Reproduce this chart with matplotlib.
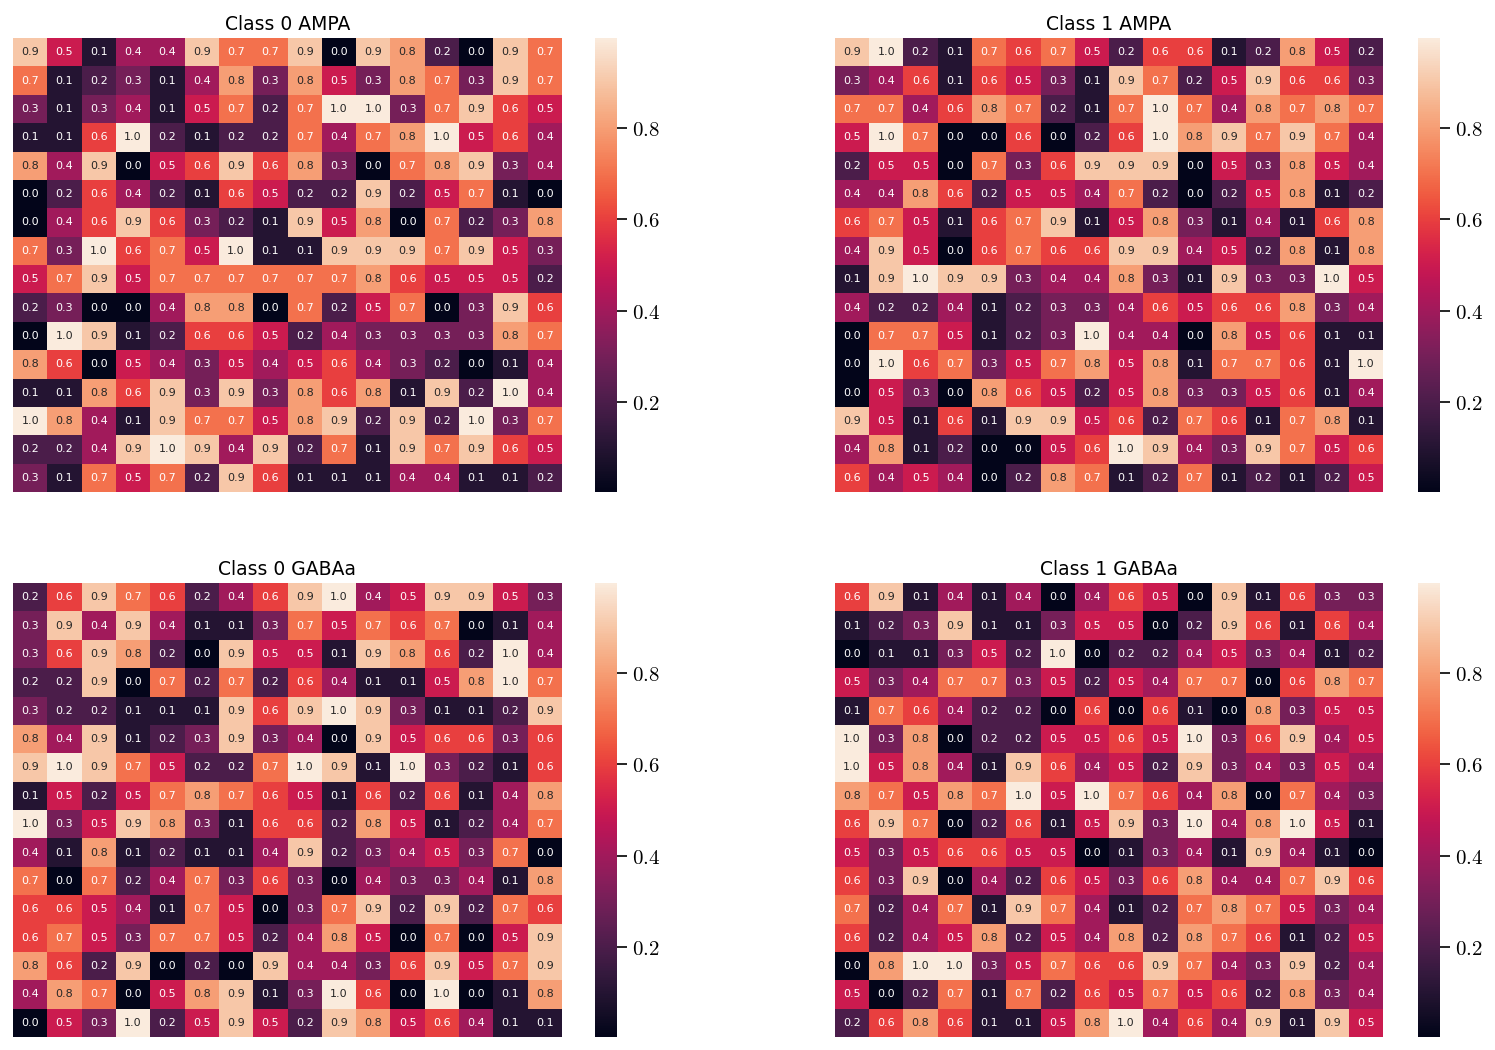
import numpy as np
import matplotlib
matplotlib.use("Agg")
import matplotlib.pyplot as plt
import matplotlib.ticker as mticker
import seaborn as sns

plt.rcParams['mathtext.fontset'] = 'cm'

# annotated (rounded) values, 16x16 each
class0_ampa = [
    [0.9, 0.5, 0.1, 0.4, 0.4, 0.9, 0.7, 0.7, 0.9, 0.0, 0.9, 0.8, 0.2, 0.0, 0.9, 0.7],
    [0.7, 0.1, 0.2, 0.3, 0.1, 0.4, 0.8, 0.3, 0.8, 0.5, 0.3, 0.8, 0.7, 0.3, 0.9, 0.7],
    [0.3, 0.1, 0.3, 0.4, 0.1, 0.5, 0.7, 0.2, 0.7, 1.0, 1.0, 0.3, 0.7, 0.9, 0.6, 0.5],
    [0.1, 0.1, 0.6, 1.0, 0.2, 0.1, 0.2, 0.2, 0.7, 0.4, 0.7, 0.8, 1.0, 0.5, 0.6, 0.4],
    [0.8, 0.4, 0.9, 0.0, 0.5, 0.6, 0.9, 0.6, 0.8, 0.3, 0.0, 0.7, 0.8, 0.9, 0.3, 0.4],
    [0.0, 0.2, 0.6, 0.4, 0.2, 0.1, 0.6, 0.5, 0.2, 0.2, 0.9, 0.2, 0.5, 0.7, 0.1, 0.0],
    [0.0, 0.4, 0.6, 0.9, 0.6, 0.3, 0.2, 0.1, 0.9, 0.5, 0.8, 0.0, 0.7, 0.2, 0.3, 0.8],
    [0.7, 0.3, 1.0, 0.6, 0.7, 0.5, 1.0, 0.1, 0.1, 0.9, 0.9, 0.9, 0.7, 0.9, 0.5, 0.3],
    [0.5, 0.7, 0.9, 0.5, 0.7, 0.7, 0.7, 0.7, 0.7, 0.7, 0.8, 0.6, 0.5, 0.5, 0.5, 0.2],
    [0.2, 0.3, 0.0, 0.0, 0.4, 0.8, 0.8, 0.0, 0.7, 0.2, 0.5, 0.7, 0.0, 0.3, 0.9, 0.6],
    [0.0, 1.0, 0.9, 0.1, 0.2, 0.6, 0.6, 0.5, 0.2, 0.4, 0.3, 0.3, 0.3, 0.3, 0.8, 0.7],
    [0.8, 0.6, 0.0, 0.5, 0.4, 0.3, 0.5, 0.4, 0.5, 0.6, 0.4, 0.3, 0.2, 0.0, 0.1, 0.4],
    [0.1, 0.1, 0.8, 0.6, 0.9, 0.3, 0.9, 0.3, 0.8, 0.6, 0.8, 0.1, 0.9, 0.2, 1.0, 0.4],
    [1.0, 0.8, 0.4, 0.1, 0.9, 0.7, 0.7, 0.5, 0.8, 0.9, 0.2, 0.9, 0.2, 1.0, 0.3, 0.7],
    [0.2, 0.2, 0.4, 0.9, 1.0, 0.9, 0.4, 0.9, 0.2, 0.7, 0.1, 0.9, 0.7, 0.9, 0.6, 0.5],
    [0.3, 0.1, 0.7, 0.5, 0.7, 0.2, 0.9, 0.6, 0.1, 0.1, 0.1, 0.4, 0.4, 0.1, 0.1, 0.2],
]

class1_ampa = [
    [0.9, 1.0, 0.2, 0.1, 0.7, 0.6, 0.7, 0.5, 0.2, 0.6, 0.6, 0.1, 0.2, 0.8, 0.5, 0.2],
    [0.3, 0.4, 0.6, 0.1, 0.6, 0.5, 0.3, 0.1, 0.9, 0.7, 0.2, 0.5, 0.9, 0.6, 0.6, 0.3],
    [0.7, 0.7, 0.4, 0.6, 0.8, 0.7, 0.2, 0.1, 0.7, 1.0, 0.7, 0.4, 0.8, 0.7, 0.8, 0.7],
    [0.5, 1.0, 0.7, 0.0, 0.0, 0.6, 0.0, 0.2, 0.6, 1.0, 0.8, 0.9, 0.7, 0.9, 0.7, 0.4],
    [0.2, 0.5, 0.5, 0.0, 0.7, 0.3, 0.6, 0.9, 0.9, 0.9, 0.0, 0.5, 0.3, 0.8, 0.5, 0.4],
    [0.4, 0.4, 0.8, 0.6, 0.2, 0.5, 0.5, 0.4, 0.7, 0.2, 0.0, 0.2, 0.5, 0.8, 0.1, 0.2],
    [0.6, 0.7, 0.5, 0.1, 0.6, 0.7, 0.9, 0.1, 0.5, 0.8, 0.3, 0.1, 0.4, 0.1, 0.6, 0.8],
    [0.4, 0.9, 0.5, 0.0, 0.6, 0.7, 0.6, 0.6, 0.9, 0.9, 0.4, 0.5, 0.2, 0.8, 0.1, 0.8],
    [0.1, 0.9, 1.0, 0.9, 0.9, 0.3, 0.4, 0.4, 0.8, 0.3, 0.1, 0.9, 0.3, 0.3, 1.0, 0.5],
    [0.4, 0.2, 0.2, 0.4, 0.1, 0.2, 0.3, 0.3, 0.4, 0.6, 0.5, 0.6, 0.6, 0.8, 0.3, 0.4],
    [0.0, 0.7, 0.7, 0.5, 0.1, 0.2, 0.3, 1.0, 0.4, 0.4, 0.0, 0.8, 0.5, 0.6, 0.1, 0.1],
    [0.0, 1.0, 0.6, 0.7, 0.3, 0.5, 0.7, 0.8, 0.5, 0.8, 0.1, 0.7, 0.7, 0.6, 0.1, 1.0],
    [0.0, 0.5, 0.3, 0.0, 0.8, 0.6, 0.5, 0.2, 0.5, 0.8, 0.3, 0.3, 0.5, 0.6, 0.1, 0.4],
    [0.9, 0.5, 0.1, 0.6, 0.1, 0.9, 0.9, 0.5, 0.6, 0.2, 0.7, 0.6, 0.1, 0.7, 0.8, 0.1],
    [0.4, 0.8, 0.1, 0.2, 0.0, 0.0, 0.5, 0.6, 1.0, 0.9, 0.4, 0.3, 0.9, 0.7, 0.5, 0.6],
    [0.6, 0.4, 0.5, 0.4, 0.0, 0.2, 0.8, 0.7, 0.1, 0.2, 0.7, 0.1, 0.2, 0.1, 0.2, 0.5],
]

class0_gabaa = [
    [0.2, 0.6, 0.9, 0.7, 0.6, 0.2, 0.4, 0.6, 0.9, 1.0, 0.4, 0.5, 0.9, 0.9, 0.5, 0.3],
    [0.3, 0.9, 0.4, 0.9, 0.4, 0.1, 0.1, 0.3, 0.7, 0.5, 0.7, 0.6, 0.7, 0.0, 0.1, 0.4],
    [0.3, 0.6, 0.9, 0.8, 0.2, 0.0, 0.9, 0.5, 0.5, 0.1, 0.9, 0.8, 0.6, 0.2, 1.0, 0.4],
    [0.2, 0.2, 0.9, 0.0, 0.7, 0.2, 0.7, 0.2, 0.6, 0.4, 0.1, 0.1, 0.5, 0.8, 1.0, 0.7],
    [0.3, 0.2, 0.2, 0.1, 0.1, 0.1, 0.9, 0.6, 0.9, 1.0, 0.9, 0.3, 0.1, 0.1, 0.2, 0.9],
    [0.8, 0.4, 0.9, 0.1, 0.2, 0.3, 0.9, 0.3, 0.4, 0.0, 0.9, 0.5, 0.6, 0.6, 0.3, 0.6],
    [0.9, 1.0, 0.9, 0.7, 0.5, 0.2, 0.2, 0.7, 1.0, 0.9, 0.1, 1.0, 0.3, 0.2, 0.1, 0.6],
    [0.1, 0.5, 0.2, 0.5, 0.7, 0.8, 0.7, 0.6, 0.5, 0.1, 0.6, 0.2, 0.6, 0.1, 0.4, 0.8],
    [1.0, 0.3, 0.5, 0.9, 0.8, 0.3, 0.1, 0.6, 0.6, 0.2, 0.8, 0.5, 0.1, 0.2, 0.4, 0.7],
    [0.4, 0.1, 0.8, 0.1, 0.2, 0.1, 0.1, 0.4, 0.9, 0.2, 0.3, 0.4, 0.5, 0.3, 0.7, 0.0],
    [0.7, 0.0, 0.7, 0.2, 0.4, 0.7, 0.3, 0.6, 0.3, 0.0, 0.4, 0.3, 0.3, 0.4, 0.1, 0.8],
    [0.6, 0.6, 0.5, 0.4, 0.1, 0.7, 0.5, 0.0, 0.3, 0.7, 0.9, 0.2, 0.9, 0.2, 0.7, 0.6],
    [0.6, 0.7, 0.5, 0.3, 0.7, 0.7, 0.5, 0.2, 0.4, 0.8, 0.5, 0.0, 0.7, 0.0, 0.5, 0.9],
    [0.8, 0.6, 0.2, 0.9, 0.0, 0.2, 0.0, 0.9, 0.4, 0.4, 0.3, 0.6, 0.9, 0.5, 0.7, 0.9],
    [0.4, 0.8, 0.7, 0.0, 0.5, 0.8, 0.9, 0.1, 0.3, 1.0, 0.6, 0.0, 1.0, 0.0, 0.1, 0.8],
    [0.0, 0.5, 0.3, 1.0, 0.2, 0.5, 0.9, 0.5, 0.2, 0.9, 0.8, 0.5, 0.6, 0.4, 0.1, 0.1],
]

class1_gabaa = [
    [0.6, 0.9, 0.1, 0.4, 0.1, 0.4, 0.0, 0.4, 0.6, 0.5, 0.0, 0.9, 0.1, 0.6, 0.3, 0.3],
    [0.1, 0.2, 0.3, 0.9, 0.1, 0.1, 0.3, 0.5, 0.5, 0.0, 0.2, 0.9, 0.6, 0.1, 0.6, 0.4],
    [0.0, 0.1, 0.1, 0.3, 0.5, 0.2, 1.0, 0.0, 0.2, 0.2, 0.4, 0.5, 0.3, 0.4, 0.1, 0.2],
    [0.5, 0.3, 0.4, 0.7, 0.7, 0.3, 0.5, 0.2, 0.5, 0.4, 0.7, 0.7, 0.0, 0.6, 0.8, 0.7],
    [0.1, 0.7, 0.6, 0.4, 0.2, 0.2, 0.0, 0.6, 0.0, 0.6, 0.1, 0.0, 0.8, 0.3, 0.5, 0.5],
    [1.0, 0.3, 0.8, 0.0, 0.2, 0.2, 0.5, 0.5, 0.6, 0.5, 1.0, 0.3, 0.6, 0.9, 0.4, 0.5],
    [1.0, 0.5, 0.8, 0.4, 0.1, 0.9, 0.6, 0.4, 0.5, 0.2, 0.9, 0.3, 0.4, 0.3, 0.5, 0.4],
    [0.8, 0.7, 0.5, 0.8, 0.7, 1.0, 0.5, 1.0, 0.7, 0.6, 0.4, 0.8, 0.0, 0.7, 0.4, 0.3],
    [0.6, 0.9, 0.7, 0.0, 0.2, 0.6, 0.1, 0.5, 0.9, 0.3, 1.0, 0.4, 0.8, 1.0, 0.5, 0.1],
    [0.5, 0.3, 0.5, 0.6, 0.6, 0.5, 0.5, 0.0, 0.1, 0.3, 0.4, 0.1, 0.9, 0.4, 0.1, 0.0],
    [0.6, 0.3, 0.9, 0.0, 0.4, 0.2, 0.6, 0.5, 0.3, 0.6, 0.8, 0.4, 0.4, 0.7, 0.9, 0.6],
    [0.7, 0.2, 0.4, 0.7, 0.1, 0.9, 0.7, 0.4, 0.1, 0.2, 0.7, 0.8, 0.7, 0.5, 0.3, 0.4],
    [0.6, 0.2, 0.4, 0.5, 0.8, 0.2, 0.5, 0.4, 0.8, 0.2, 0.8, 0.7, 0.6, 0.1, 0.2, 0.5],
    [0.0, 0.8, 1.0, 1.0, 0.3, 0.5, 0.7, 0.6, 0.6, 0.9, 0.7, 0.4, 0.3, 0.9, 0.2, 0.4],
    [0.5, 0.0, 0.2, 0.7, 0.1, 0.7, 0.2, 0.6, 0.5, 0.7, 0.5, 0.6, 0.2, 0.8, 0.3, 0.4],
    [0.2, 0.6, 0.8, 0.6, 0.1, 0.1, 0.5, 0.8, 1.0, 0.4, 0.6, 0.4, 0.9, 0.1, 0.9, 0.5],
]

titles = ['Class 0 AMPA', 'Class 1 AMPA', 'Class 0 GABAa', 'Class 1 GABAa']
matrices = [class0_ampa, class1_ampa, class0_gabaa, class1_gabaa]

fig = plt.figure(figsize=(14.95, 10.5), dpi=100)
W, H = 1495.0, 1050.0

# pixel boxes (left, top, right, bottom) for heatmap and colorbar
heat_boxes = [(13, 38, 562, 492), (835, 38, 1383, 492),
              (13, 583, 562, 1037), (835, 583, 1383, 1037)]
cbar_x = [(595, 617), (1418, 1440), (595, 617), (1418, 1440)]

for mat, title, hb, cx in zip(matrices, titles, heat_boxes, cbar_x):
    l, t, r, b = hb
    ax = fig.add_axes([l / W, 1 - b / H, (r - l) / W, (b - t) / H])
    cax = fig.add_axes([cx[0] / W, 1 - b / H, (cx[1] - cx[0]) / W, (b - t) / H])
    sns.heatmap(np.array(mat), ax=ax, cbar_ax=cax, cmap='rocket',
                vmin=0.003, vmax=0.997, annot=True, fmt='.1f',
                annot_kws={'fontsize': 8}, xticklabels=False, yticklabels=False)
    ax.set_title(title, fontsize=13.5)
    cax.yaxis.set_major_locator(mticker.FixedLocator([0.2, 0.4, 0.6, 0.8]))
    cax.yaxis.set_major_formatter(mticker.FuncFormatter(lambda v, p: r'$%.1f$' % v))
    cax.tick_params(labelsize=15, length=7, width=1.2)

fig.savefig('out.png', dpi=100)
